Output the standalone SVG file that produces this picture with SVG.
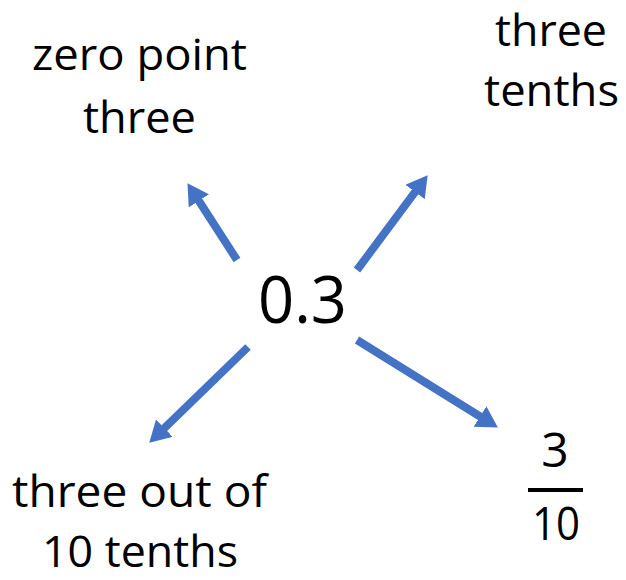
<svg xmlns="http://www.w3.org/2000/svg" width="626" height="580" viewBox="0 0 626 580">
<style>
.t{font-family:"Open Sans","Noto Sans",sans-serif;fill:#000;}
.lbl{font-size:43px;}
.arr{stroke:#4472C4;stroke-width:8;fill:none;marker-end:url(#ah);}
</style>
<defs>
<marker id="ah" markerUnits="userSpaceOnUse" viewBox="0 -12 21 24" markerWidth="21" markerHeight="24" refX="1" refY="0" orient="auto">
<path d="M0,-12 L21,0 L0,12 z" fill="#4472C4"/>
</marker>
</defs>
<rect width="626" height="580" fill="#fff"/>
<g id="connectors">
<line class="arr" x1="237" y1="260" x2="198.3" y2="200"/>
<line class="arr" x1="357" y1="270" x2="415.7" y2="191.2"/>
<line class="arr" x1="248" y1="347" x2="163.6" y2="428.8"/>
<line class="arr" x1="357" y1="340" x2="480.9" y2="417"/>
</g>
<g id="center">
<text class="t" x="258" y="323" font-size="66" textLength="89" lengthAdjust="spacingAndGlyphs">0.3</text>
</g>
<g id="zero-point-three">
<text class="t lbl" x="32" y="70" textLength="215" lengthAdjust="spacingAndGlyphs">zero point</text>
<text class="t lbl" x="83" y="133" textLength="113" lengthAdjust="spacingAndGlyphs">three</text>
</g>
<g id="three-tenths">
<text class="t lbl" x="495" y="46" textLength="112" lengthAdjust="spacingAndGlyphs">three</text>
<text class="t lbl" x="484" y="106" textLength="135" lengthAdjust="spacingAndGlyphs">tenths</text>
</g>
<g id="three-out-of-10">
<text class="t lbl" x="12" y="507" textLength="255" lengthAdjust="spacingAndGlyphs">three out of</text>
<text class="t lbl" x="42" y="567" textLength="196" lengthAdjust="spacingAndGlyphs">10 tenths</text>
</g>
<g id="fraction">
<text class="t" x="555" y="467" font-size="48" text-anchor="middle">3</text>
<rect x="528" y="488" width="55" height="4" fill="#000"/>
<text class="t" x="532" y="540" font-size="46" textLength="48" lengthAdjust="spacingAndGlyphs">10</text>
</g>
</svg>
